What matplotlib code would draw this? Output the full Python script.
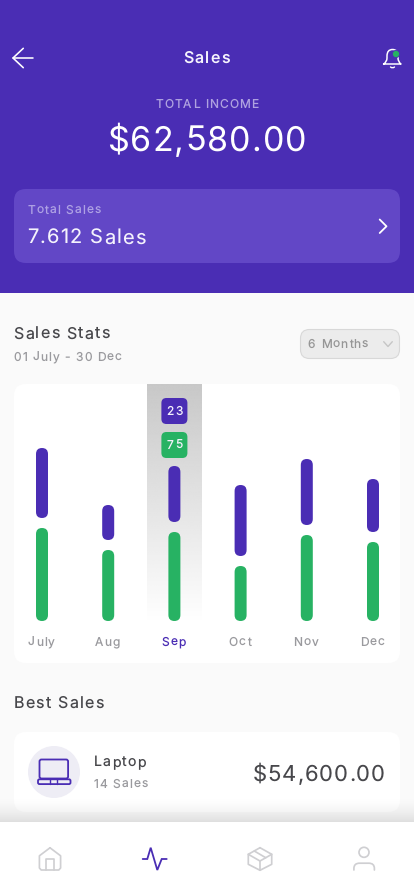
import matplotlib
matplotlib.use("Agg")
import matplotlib.pyplot as plt
import numpy as np
from matplotlib.patches import FancyBboxPatch, BoxStyle, Circle, PathPatch, Rectangle
from matplotlib.path import Path
from matplotlib.text import Text
from matplotlib.transforms import IdentityTransform, Bbox

plt.rcParams["text.hinting"] = "no_hinting"

# ---- data ----
months = ["July", "Aug", "Sep", "Oct", "Nov", "Dec"]
green_values = [93, 71, 89, 55, 86, 79]
purple_values = [70, 35, 56, 71, 66, 53]
selected_month = "Sep"
selected_purple_label = "23"
selected_green_label = "75"

PURPLE = "#4A2DB4"
PURPLE_CARD = "#6247C6"
GREEN = "#27B263"
DARK = "#47474B"
GRAY = "#9A9A9E"
ICON = "#CFCFD2"
FONT = "Inter"

W, H = 414, 896


class SpacedText(Text):
    """A single text object drawn with CSS-like letter spacing (in pixels)."""
    spacing = 0.0

    def _measure(self, renderer, s):
        return renderer.get_text_width_height_descent(s, self._fontproperties, False)[0]

    def draw(self, renderer):
        if not self.get_visible() or not self.get_text():
            return
        s = self.get_text()
        x, y = self.get_transform().transform(self.get_unitless_position())
        total = self._measure(renderer, s) + (len(s) - 1) * self.spacing
        ha = self.get_ha()
        start = x if ha == "left" else (x - total / 2 if ha == "center" else x - total)
        for i, ch in enumerate(s):
            if ch == " ":
                continue
            off = self._measure(renderer, s[: i + 1]) - self._measure(renderer, ch)
            t = Text(start + off + i * self.spacing, y, ch,
                     fontproperties=self._fontproperties, color=self.get_color(),
                     ha="left", va="baseline", transform=IdentityTransform())
            t.set_figure(self.get_figure())
            t.draw(renderer)

    def get_window_extent(self, renderer=None, dpi=None):
        bb = super().get_window_extent(renderer, dpi)
        extra = (len(self.get_text()) - 1) * self.spacing
        ha = self.get_ha()
        if ha == "left":
            return Bbox.from_extents(bb.x0, bb.y0, bb.x1 + extra, bb.y1)
        if ha == "right":
            return Bbox.from_extents(bb.x0 - extra, bb.y0, bb.x1, bb.y1)
        return Bbox.from_extents(bb.x0 - extra / 2, bb.y0, bb.x1 + extra / 2, bb.y1)


fig = plt.figure(figsize=(W / 100 + 1e-6, H / 100 + 1e-6), dpi=100, facecolor="#FAFAFA")
ui = fig.add_axes([0, 0, 1, 1], zorder=0)
ui.set_xlim(0, W)
ui.set_ylim(H, 0)
ui.axis("off")


def label(x, y, s, px, color, ls=1.0, ha="left", weight="normal"):
    t = SpacedText(x, y, s, color=color, ha=ha, va="baseline", family=FONT,
                   fontsize=px * 0.72, fontweight=weight, transform=ui.transData)
    t.spacing = ls
    ui.add_artist(t)
    return t


def card(x0, y0, x1, y1, r, fc, ec="none", lw=0, z=1):
    p = FancyBboxPatch((x0, y0), x1 - x0, y1 - y0, boxstyle=BoxStyle.Round(pad=0, rounding_size=r),
                       fc=fc, ec=ec, lw=lw, zorder=z)
    ui.add_patch(p)
    return p


def stroke(pts, color, lw=1.6, z=5, closed=False, join="round", cap="round"):
    xs, ys = zip(*pts)
    if closed:
        xs += (xs[0],)
        ys += (ys[0],)
    ui.plot(xs, ys, color=color, lw=lw * 0.72, solid_joinstyle=join, solid_capstyle=cap, zorder=z)


def svg(codes_pts, color, lw=1.6, z=5):
    verts, codes = [], []
    for c, pts in codes_pts:
        for p in pts:
            verts.append(p)
            codes.append(c)
    ui.add_patch(PathPatch(Path(verts, codes), fc="none", ec=color, lw=lw * 0.72,
                           capstyle="round", joinstyle="round", zorder=z))


M, L, Q = Path.MOVETO, Path.LINETO, Path.CURVE3

# header
ui.add_patch(Rectangle((0, 0), W, 293, fc=PURPLE, ec="none", zorder=0.5))
card(14, 189, 400, 263, 12, PURPLE_CARD)
label(206.5, 63, "Sales", 16, "#F6F4FD", ls=1.2, ha="center", weight="medium")
label(207, 108, "TOTAL INCOME", 12, "#AFA2E0", ls=1.1, ha="center")
label(207, 150.7, "$62,580.00", 34, "#FFFFFF", ls=1.1, ha="center", weight="normal")
label(27.5, 214.3, "Total Sales", 12, "#AEA1E4", ls=1.05)
label(27.5, 243.3, "7.612 Sales", 20, "#F4F2FC", ls=1.15, weight="normal")

stroke([(13, 58), (33, 58)], "white")
stroke([(23.3, 48.3), (13, 58), (23.3, 67.7)], "white")
stroke([(379.7, 219.5), (386.5, 226.3), (379.7, 233)], "white", lw=1.8)
svg([(M, [(383.6, 64)]), (Q, [(387, 62), (387, 58)]), (L, [(387, 56)]),
     (Q, [(387, 49.5), (392.5, 49.5)]), (Q, [(398, 49.5), (398, 56)]), (L, [(398, 58)]),
     (Q, [(398, 62), (401, 64)]), (L, [(383.6, 64)])], "white", lw=1.5)
svg([(M, [(390.5, 67)]), (Q, [(392.5, 68.7), (394.5, 67)])], "white", lw=1.4)
ui.add_patch(Circle((396, 54), 3.6, fc="#27B263", ec=PURPLE, lw=0.6, zorder=6))

# body section headings
label(13.5, 338.3, "Sales Stats", 16, DARK, ls=1.25, weight="normal")
label(13.5, 361, "01 July - 30 Dec", 12, GRAY, ls=1.05)
card(300.5, 329.5, 399.5, 358.5, 9, "#ECECEC", ec="#D8D8D8", lw=0.8)
label(307.8, 348.3, "6 Months", 12, "#969696", ls=1.0)
stroke([(383.7, 341.7), (388, 346.5), (392.3, 341.7)], "#C6C6C6", lw=1.4)

# chart card
card(14, 384, 400, 663, 12, "#FFFFFF")
px_x = 66.2
left, right = 14, 400
bottom, top, base = 663, 384, 621
ax = fig.add_axes([left / W, 1 - bottom / H, (right - left) / W, (bottom - top) / H], zorder=2)
ax.patch.set_visible(False)
ax.set_xlim(-(42 - left) / px_x, 5 + (right - 373) / px_x)
ax.set_ylim(base - bottom, base - top)
for sp in ax.spines.values():
    sp.set_visible(False)
ax.set_yticks([])
x = np.arange(len(months))
ax.set_xticks(x - 0.012, months)
ax.tick_params(axis="x", length=0, pad=-12.2)
for lab, m in zip(ax.get_xticklabels(), months):
    lab.__class__ = SpacedText
    lab.spacing = 1.0
    lab.set_family(FONT)
    lab.set_fontsize(12 * 0.72)
    lab.set_va("baseline")
    lab.set_color(PURPLE if m == selected_month else GRAY)

idx = months.index(selected_month)
grad = np.linspace(0, 1, 256).reshape(-1, 1)
cols = np.zeros((256, 1, 4))
cols[..., :3] = 200 / 255
cols[..., 3] = 1 - grad
ax.imshow(cols, extent=(idx - 27.4 / px_x, idx + 26.6 / px_x, 0, base - top), aspect="auto",
          origin="upper", zorder=1, interpolation="bilinear")
ax.set_xlim(-(42 - left) / px_x, 5 + (right - 373) / px_x)
ax.set_ylim(base - bottom, base - top)


def rbar(xc, y0, h, w_px, r_px, color, z=3):
    p = FancyBboxPatch((xc - w_px / 2 / px_x, y0), w_px / px_x, h,
                       boxstyle=BoxStyle.Round(pad=0, rounding_size=r_px / px_x),
                       mutation_aspect=px_x, fc=color, ec="none", zorder=z)
    ax.add_patch(p)


gap = 10
for xi, g, p in zip(x, green_values, purple_values):
    rbar(xi, 0, g, 12, 6, GREEN)
    rbar(xi, g + gap, p, 12, 6, PURPLE)


def chip(y_top_px, text, color):
    y1 = base - y_top_px
    rbar(idx, y1 - 26, 26, 26, 5, color, z=4)
    t = SpacedText(idx, y1 - 13 - 4.3, text, color="#F4F2FC", ha="center", va="baseline",
                   family=FONT, fontsize=12 * 0.72, transform=ax.transData, zorder=5)
    t.spacing = 1.2
    ax.add_artist(t)


chip(398, selected_purple_label, PURPLE)
chip(432, selected_green_label, GREEN)

# best sales
label(13.5, 708, "Best Sales", 16, DARK, ls=1.25, weight="normal")
card(14, 732, 400, 812, 12, "#FFFFFF")
ui.add_patch(Circle((54, 772), 26, fc="#EEEDF5", ec="none", zorder=2))
ui.add_patch(FancyBboxPatch((39.5, 759.5), 28.6, 19, boxstyle=BoxStyle.Round(pad=0, rounding_size=2),
                            fc="none", ec=PURPLE, lw=1.3, zorder=3))
ui.add_patch(FancyBboxPatch((38, 779.3), 32.5, 4.8, boxstyle=BoxStyle.Round(pad=0, rounding_size=1.5),
                            fc="none", ec=PURPLE, lw=1.3, zorder=3))
stroke([(50.3, 779.5), (50.3, 784)], PURPLE, lw=1.4)
stroke([(57.3, 779.5), (57.3, 784)], PURPLE, lw=1.4)
label(93.5, 765.7, "Laptop", 14, DARK, ls=1.3, weight="normal")
label(93.5, 788, "14 Sales", 12, GRAY, ls=1.05)
label(385, 780.7, "$54,600.00", 22, DARK, ls=1.0, ha="right", weight="normal")

# shadow above nav
shade = np.zeros((64, 1, 4))
shade[..., 3] = (np.linspace(0, 1, 64).reshape(-1, 1) ** 2) * 0.11
ui.imshow(shade, extent=(0, W, 822, 794), aspect="auto", origin="upper", zorder=8, interpolation="bilinear")
ui.set_xlim(0, W)
ui.set_ylim(H, 0)

# bottom nav
ui.add_patch(Rectangle((0, 822), W, 74, fc="#FFFFFF", ec="none", zorder=9))
Z = 10
stroke([(50, 847.8), (60.6, 855.8), (60.6, 868), (58.8, 870), (41.2, 870), (39.4, 868), (39.4, 855.8)],
       ICON, lw=1.7, z=Z, closed=True)
stroke([(46, 870), (46, 859.2), (54, 859.2), (54, 870)], ICON, lw=1.7, z=Z)
stroke([(142.7, 859), (147.3, 859), (150.7, 847.7), (157.3, 870), (161.7, 859), (166.7, 859)],
       PURPLE, lw=1.8, z=Z, join="miter")
hexa = [(260, 847.7), (271.7, 854.3), (271.7, 864.3), (260, 870.3), (248.3, 864.3), (248.3, 854.3)]
stroke(hexa, ICON, lw=1.7, z=Z, closed=True)
stroke([(248.3, 854.3), (260, 861), (271.7, 854.3)], ICON, lw=1.7, z=Z)
stroke([(260, 861), (260, 870.3)], ICON, lw=1.7, z=Z)
stroke([(254.3, 851), (265.7, 857.7)], ICON, lw=1.7, z=Z)
ui.add_patch(Circle((364, 852.3), 5, fc="none", ec=ICON, lw=1.7 * 0.72, zorder=Z))
svg([(M, [(353.9, 870)]), (L, [(353.9, 868.5)]), (Q, [(353.9, 863.2), (359.5, 863.2)]),
     (L, [(368.8, 863.2)]), (Q, [(374.4, 863.2), (374.4, 868.5)]), (L, [(374.4, 870)])],
    ICON, lw=1.7, z=Z)

fig.savefig("out.png", dpi=100, facecolor=fig.get_facecolor())
